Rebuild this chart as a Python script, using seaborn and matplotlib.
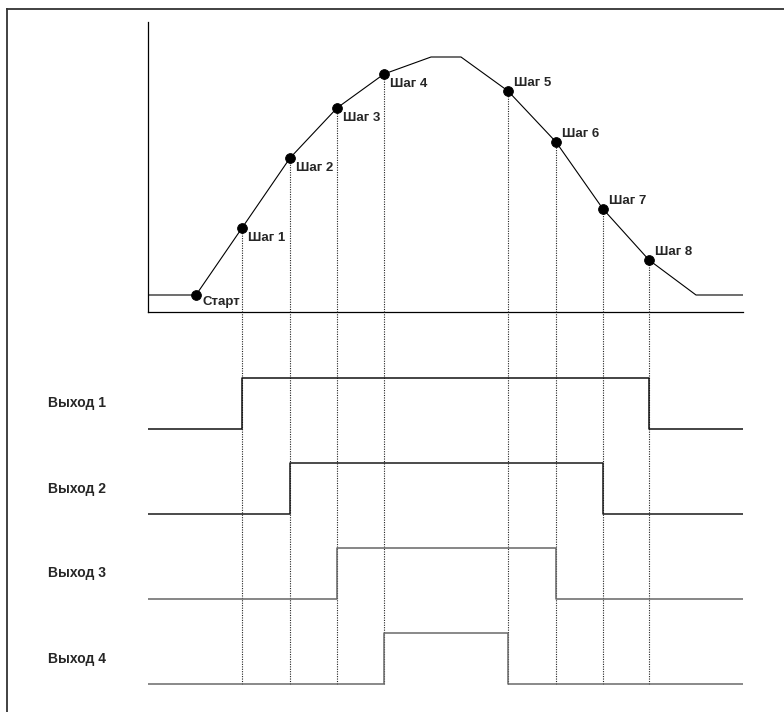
import pandas as pd
import seaborn as sns
import matplotlib.pyplot as plt
from matplotlib.transforms import blended_transform_factory

sns.set_style('white')
plt.rcParams['font.family'] = ['Liberation Sans', 'DejaVu Sans']

# motion curve (time vs position)
curve_x = [0, 48, 94, 142, 189, 236, 283, 313, 360, 408, 455, 501, 548, 595]
curve_y = [17, 17, 84, 154, 204, 238, 255, 255, 221, 170, 103, 52, 17, 17]

# marked points on the curve
point_names = ['Старт', 'Шаг 1', 'Шаг 2', 'Шаг 3', 'Шаг 4',
               'Шаг 5', 'Шаг 6', 'Шаг 7', 'Шаг 8']
point_x = [48, 94, 142, 189, 236, 360, 408, 455, 501]
point_y = [17, 84, 154, 204, 238, 221, 170, 103, 52]

# outputs: switched on at step i, off at step 9-i
outputs = ['Выход 1', 'Выход 2', 'Выход 3', 'Выход 4']
out_on = [94, 142, 189, 236]
out_off = [501, 455, 408, 360]
out_colors = ['#111111', '#1a1a1a', '#666666', '#6a6a6a']

x_end = 595
top_h = 290
bot_top = 372
lane = 85
amp = 51

fig = plt.figure(figsize=(7.84, 7.12), dpi=100)
W, H = 784, 712

# outer frame (only top/left visible)
frame = fig.add_axes([7 / W, 0, 1 - 7 / W, 1 - 9 / H])
frame.set_xticks([])
frame.set_yticks([])
for s in ['right', 'bottom']:
    frame.spines[s].set_visible(False)
for s in ['left', 'top']:
    frame.spines[s].set_color('#333333')
    frame.spines[s].set_linewidth(1.3)
frame.patch.set_alpha(0)

# top chart
ax = fig.add_axes([148 / W, 1 - 312 / H, 595 / W, 290 / H])
ax.patch.set_alpha(0)
sns.lineplot(x=curve_x, y=curve_y, ax=ax, color='black', lw=0.8, sort=False, zorder=3)
ax.vlines(point_x[1:], 0, point_y[1:], colors='#222222', linestyles=(0, (1, 1.2)),
          lw=0.8, zorder=1, clip_on=False)
sns.scatterplot(x=point_x, y=point_y, ax=ax, color='black', s=50, edgecolor='black',
                zorder=4, clip_on=False)
peak = point_y.index(max(point_y))
for i, (nm, px, py) in enumerate(zip(point_names, point_x, point_y)):
    if i <= peak:
        off = (4.5, -7 if i > 0 else -5)
    else:
        off = (4.5, 6)
    ax.annotate(nm, (px, py), xytext=off, textcoords='offset points',
                ha='left', va='center', fontsize=9.5, fontweight='bold')
ax.set_xlim(0, x_end)
ax.set_ylim(0, top_h)
ax.set_xticks([])
ax.set_yticks([])
for s in ['right', 'top']:
    ax.spines[s].set_visible(False)
for s in ['left', 'bottom']:
    ax.spines[s].set_color('black')
    ax.spines[s].set_linewidth(0.9)

# output timing diagram
bx = fig.add_axes([148 / W, 1 - 690 / H, 595 / W, 378 / H])
bx.patch.set_alpha(0)
bx.vlines(point_x[1:], 0, bot_top, colors='#222222', linestyles=(0, (1, 1.2)),
          lw=0.8, zorder=1)
for k, (nm, on, off, c) in enumerate(zip(outputs, out_on, out_off, out_colors)):
    base = (len(outputs) - 1 - k) * lane
    df = pd.DataFrame({'t': [0, on, off, x_end], 'v': [0, 1, 0, 0]})
    df['y'] = base + amp * df['v']
    sns.lineplot(data=df, x='t', y='y', ax=bx, color=c, lw=1.1,
                 drawstyle='steps-post', zorder=2)
    trans = blended_transform_factory(bx.transAxes, bx.transData)
    bx.text(-71 / 595, base + amp / 2, nm, transform=trans, ha='center', va='center',
            fontsize=10, fontweight='bold')
bx.set_xlim(0, x_end)
bx.set_ylim(-6, bot_top)
bx.set_xticks([])
bx.set_yticks([])
bx.set_xlabel('')
bx.set_ylabel('')
for s in bx.spines.values():
    s.set_visible(False)

fig.savefig('out.png', dpi=100)
